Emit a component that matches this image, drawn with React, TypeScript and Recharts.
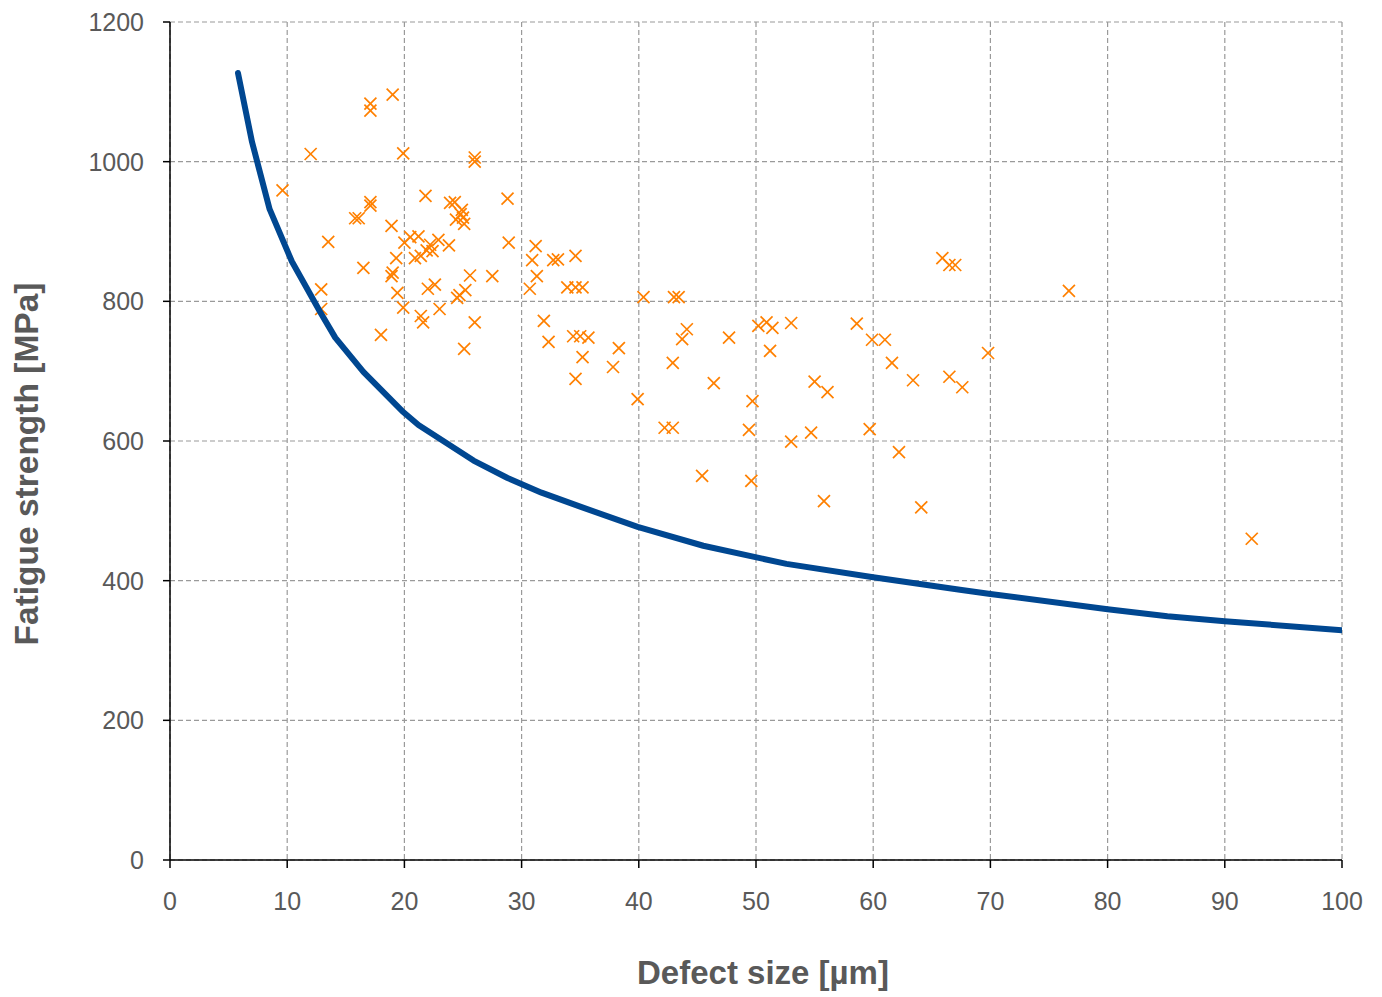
import React from "react";
import { ScatterChart, Scatter, XAxis, YAxis, CartesianGrid, Label } from "recharts";

const xTicks = [0, 10, 20, 30, 40, 50, 60, 70, 80, 90, 100];
const yTicks = [0, 200, 400, 600, 800, 1000, 1200];

const curveX = [5.8, 7.0, 8.5, 10.4, 12.8, 14.1, 16.5, 19.8, 21.2, 25.9, 28.8, 31.7, 35.0, 39.9, 45.5, 52.6, 60.0, 67.4, 70.0, 80.0, 85.1, 90.0, 100];
const curveY = [1127, 1028, 932, 857, 785, 748, 699, 643, 623, 572, 547, 526, 506, 477, 450, 424, 405, 387, 381, 359, 349, 342, 329];

const defectX = [
  9.6, 12.0, 12.9, 12.9, 13.5, 15.8, 16.1, 16.5, 17.1, 17.1, 17.1, 17.1, 18.0, 18.9, 18.9, 19.0, 19.0, 19.3, 19.4, 19.9,
  19.9, 20.0, 20.5, 20.9, 21.2, 21.4, 21.6, 21.4, 21.8, 21.9, 22.0, 22.4, 22.6, 22.9, 23.0, 23.8, 23.9, 24.3, 24.4, 24.5,
  24.8, 24.9, 25.1, 25.0, 25.1, 25.2, 25.6, 26.0, 26.0, 26.0, 27.5, 28.8, 28.9, 30.7, 31.2, 31.3, 30.9, 31.9, 32.3, 32.7,
  33.1, 33.9, 34.6, 34.4, 34.6, 34.6, 35.2, 35.0, 35.2, 35.7, 37.8, 38.3, 39.9, 40.4, 42.2, 42.9, 42.9, 43.0, 43.4, 43.7,
  44.1, 45.4, 46.4, 47.7, 49.4, 49.7, 49.6, 50.2, 50.9, 51.4, 51.2, 53.0, 53.0, 54.7, 55.0, 56.1, 55.8, 58.6, 59.7, 59.9,
  61.0, 61.6, 62.2, 63.4, 64.1, 65.9, 66.5, 67.0, 66.5, 67.6, 69.8, 76.7, 92.3, 22.2, 24.7,
];
const strengthY = [
  959, 1011, 817, 789, 885, 919, 919, 848, 1083, 1073, 942, 937, 752, 908, 836, 841, 1096, 862, 812, 1012,
  791, 884, 892, 862, 893, 779, 770, 865, 951, 873, 818, 872, 824, 888, 789, 880, 941, 942, 917, 805,
  925, 931, 911, 920, 732, 816, 837, 770, 1000, 1006, 836, 947, 884, 818, 879, 836, 859, 772, 742, 859,
  860, 820, 865, 750, 689, 820, 820, 750, 720, 748, 706, 733, 660, 806, 619, 619, 712, 806, 806, 746,
  760, 550, 683, 748, 616, 657, 543, 765, 770, 762, 729, 769, 599, 612, 685, 670, 514, 768, 617, 745,
  745, 712, 584, 687, 505, 862, 852, 852, 692, 677, 726, 815, 460, 881, 809,
];

const curveData = curveX.map((x, i) => ({ x, y: curveY[i] }));
const scatterData = defectX.map((x, i) => ({ x, y: strengthY[i] }));

const FONT = "'Liberation Sans', Arial, sans-serif";
const TEXT = "#595959";

const Cross = (props: any) => {
  const { cx, cy } = props;
  if (cx == null || cy == null) return <g />;
  const r = 6;
  return (
    <g stroke="#FF8000" strokeWidth={1.7} fill="none">
      <line x1={cx - r} y1={cy - r} x2={cx + r} y2={cy + r} />
      <line x1={cx - r} y1={cy + r} x2={cx + r} y2={cy - r} />
    </g>
  );
};

const Empty = () => <g />;

export default function App() {
  return (
    <div style={{ position: "absolute", left: 0, top: 0, width: 1382, height: 997, background: "#fff" }}>
      <ScatterChart width={1382} height={997} margin={{ top: 22, right: 40, bottom: 77, left: 90 }}>
        <CartesianGrid stroke="#9a9a9a" strokeDasharray="5 3" strokeWidth={1.2} />
        <XAxis
          type="number"
          dataKey="x"
          domain={[0, 100]}
          ticks={xTicks}
          interval={0}
          height={60}
          tickSize={8}
          tickMargin={24}
          axisLine={{ stroke: "#000", strokeWidth: 1.5 }}
          tickLine={{ stroke: "#000", strokeWidth: 1.5 }}
          tick={{ fill: TEXT, fontSize: 25, fontFamily: FONT }}
          allowDataOverflow
        >
          <Label
            content={() => (
              <text x={763} y={984} textAnchor="middle" fill={TEXT} fontSize={33} fontWeight="bold" fontFamily={FONT}>
                Defect size [µm]
              </text>
            )}
          />
        </XAxis>
        <YAxis
          type="number"
          dataKey="y"
          domain={[0, 1200]}
          ticks={yTicks}
          interval={0}
          width={80}
          tickSize={7}
          tickMargin={19}
          axisLine={{ stroke: "#000", strokeWidth: 1.5 }}
          tickLine={{ stroke: "#000", strokeWidth: 1.5 }}
          tick={{ fill: TEXT, fontSize: 25, fontFamily: FONT }}
          allowDataOverflow
        >
          <Label
            content={() => (
              <text transform="translate(38,464) rotate(-90)" textAnchor="middle" fill={TEXT} fontSize={33.5} fontWeight="bold" fontFamily={FONT}>
                Fatigue strength [MPa]
              </text>
            )}
          />
        </YAxis>
        <Scatter
          data={scatterData}
          shape={<Cross />}
          isAnimationActive={false}
        />
        <Scatter
          data={curveData}
          shape={<Empty />}
          line={{ stroke: "#004791", strokeWidth: 6, strokeLinecap: "round", strokeLinejoin: "round", fill: "none" }}
          lineJointType="linear"
          isAnimationActive={false}
        />
      </ScatterChart>
    </div>
  );
}
